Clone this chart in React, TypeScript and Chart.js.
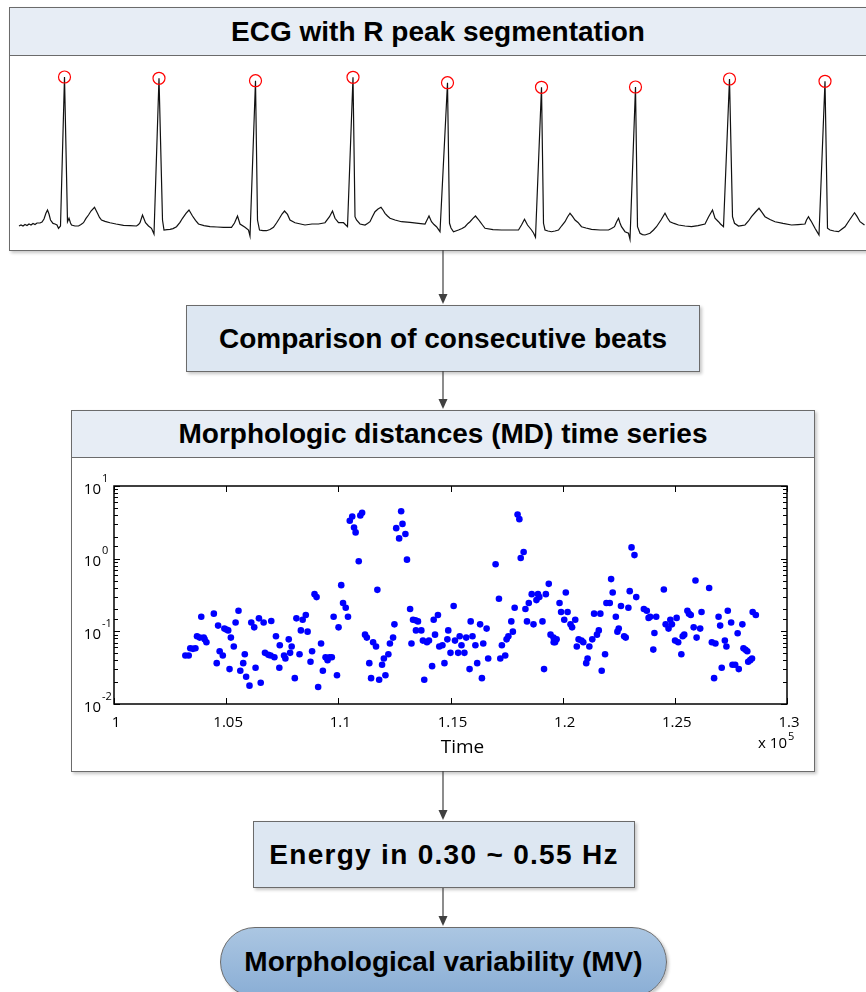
import React, { useEffect, useRef } from 'react';
import { Chart, registerables } from 'chart.js';

Chart.register(...registerables);

// ---------- ECG trace (samples at 250 Hz, amplitude in mV) ----------
const ecgSample = [
  18, 22, 26, 30, 34, 38, 42, 46, 50, 54, 60, 64, 68, 72, 75, 78, 81, 86, 90, 94,
  97, 101, 109, 115, 118, 121, 123, 130, 137, 142, 147, 152, 157, 162, 169, 175, 179, 183, 190, 200,
  212, 227, 240, 253,
  257, 260, 265, 271, 277, 283, 288, 298, 305, 308, 314, 320, 326, 333, 340, 345, 352, 358, 365, 371,
  377, 388, 400, 414, 427, 443,
  449, 455, 460, 470, 477, 480, 491, 495, 499, 506, 513, 520, 527, 533, 539, 544, 549, 555, 560, 570,
  590, 604, 617, 630, 639, 645, 650, 657, 667, 675,
  686, 690, 693, 700, 710, 715, 720, 725, 730, 736, 742, 746, 750, 755, 760, 770, 783, 800, 817, 830,
  834, 838, 843, 848, 853, 860,
  875, 879, 882, 887, 897, 904, 910, 916, 920, 926, 931, 936, 940, 945, 950, 966, 983, 1000, 1017, 1023,
  1029, 1035, 1043, 1047, 1051,
  1063, 1067, 1070, 1076, 1083, 1090, 1097, 1103, 1110, 1115, 1120, 1125, 1130, 1136, 1143, 1152, 1163, 1180, 1197, 1203,
  1209, 1213, 1217, 1220, 1223, 1230, 1237, 1240,
  1251, 1255, 1260, 1265, 1270, 1280, 1287, 1293, 1302, 1310, 1315, 1320, 1328, 1337, 1350, 1363, 1376, 1390, 1397, 1405,
  1410, 1417, 1421, 1427,
  1439, 1445, 1449, 1457, 1463, 1470, 1477, 1483, 1491, 1498, 1504, 1510, 1520, 1530, 1546, 1563, 1576, 1590, 1593, 1597,
  1600, 1603, 1610, 1614, 1618,
  1630, 1635, 1640, 1648, 1657, 1664, 1670, 1679, 1689, 1694, 1700, 1709,
];
const ecgAmp = [
  -0.014, -0.007, -0.014, -0.004, -0.011, 0, -0.007, 0.004, -0.004, 0.007, 0.007, 0.014, 0.035, 0.077, 0.098, 0.07, 0.028, 0.004, 0, -0.007,
  -0.03, -0.014, 1.029, 0.016, 0.04, 0.007, -0.007, -0.014, -0.014, -0.004, 0.009, 0.039, 0.063, 0.091, 0.117, 0.075, 0.046, 0.028, 0.018, 0.009,
  0, -0.009, -0.011, -0.014,
  -0.004, 0.009, 0.063, 0.009, -0.014, -0.03, -0.07, 1.02, 0.028, -0.042, -0.039, -0.037, -0.032, -0.019, 0.011, 0.04, 0.074, 0.098, 0.056, 0.025,
  0, -0.011, -0.019, -0.021, -0.023, -0.023,
  0.007, 0.056, 0, -0.023, -0.042, -0.084, 1.003, 0.028, -0.042, -0.046, -0.047, -0.039, -0.023, 0.007, 0.04, 0.07, 0.091, 0.067, 0.028, 0.009,
  -0.007, 0, 0, 0.009, 0.051, 0.091, 0.04, 0.009, 0.009, -0.019,
  1.027, 0.051, 0.028, 0, -0.007, 0.004, 0.016, 0.053, 0.086, 0.105, 0.117, 0.098, 0.075, 0.056, 0.04, 0.028, 0.016, 0.011, 0.005, 0,
  0.028, 0.056, 0.016, -0.004, -0.019, -0.054,
  0.989, 0.005, -0.028, -0.054, -0.042, -0.032, -0.019, 0.004, 0.016, 0.039, 0.056, 0.035, 0.016, -0.007, -0.03, -0.039, -0.042, -0.042, -0.042, -0.007,
  0.033, -0.007, -0.042, -0.063, -0.093,
  0.957, 0.005, -0.042, -0.049, -0.054, -0.049, -0.042, -0.014, 0.016, 0.049, 0.075, 0.053, 0.028, 0.011, -0.019, -0.028, -0.037, -0.042, -0.042, -0.032,
  -0.019, 0.014, 0.04, 0.007, -0.019, -0.054, -0.065, -0.107,
  0.959, -0.019, -0.065, -0.074, -0.077, -0.065, -0.042, -0.019, 0.028, 0.075, 0.042, 0.016, 0.004, -0.007, -0.014, -0.019, -0.011, 0, 0.049, 0.098,
  0.04, 0.016, 0, -0.019,
  1.015, 0.051, 0.005, -0.014, -0.011, -0.007, 0.021, 0.051, 0.084, 0.11, 0.081, 0.051, 0.032, 0.016, 0.004, -0.007, -0.004, 0, 0.028, 0.051,
  0.032, 0.016, -0.03, -0.053, -0.077,
  0.999, -0.03, -0.042, -0.049, -0.054, -0.035, -0.019, 0.028, 0.079, 0.053, 0.016, -0.007,
];

// ---------- detected R peaks ----------
const rPeakSample = [109, 298, 491, 686, 875, 1063, 1251, 1439, 1630];
const rPeakAmp = [1.029, 1.02, 1.003, 1.027, 0.989, 0.957, 0.959, 1.015, 0.999];

// ---------- morphologic distance time series ----------
const mdTime = [
  103180, 103330, 103400, 103520, 103630, 103700, 103820, 103890, 104000, 104040,
  104120, 104450, 104580, 104640, 104710, 104850, 104920, 105010, 105090, 105150,
  105210, 105340, 105420, 105550, 105630, 105760, 105830, 105890, 106040, 106120,
  106250, 106310, 106460, 106540, 106670, 106730, 106880, 106980, 107010, 107150,
  107220, 107390, 107370, 107580, 107640, 107790, 107850, 107920, 108060, 108130,
  108270, 108330, 108410, 108550, 108630, 108760, 108830, 108940, 109030, 109100,
  109230, 109310, 109430, 109520, 109610, 109710, 109790, 109940, 110010, 110130,
  110210, 110330, 110430, 110510, 110620, 110700, 110770, 110910, 110980, 111060,
  111190, 111270, 111380, 111460, 111550, 111680, 111740, 111820, 111950, 112030,
  112100, 112230, 112300, 112440, 112500, 112580, 112710, 112800, 112860, 112990,
  113060, 113200, 113260, 113330, 113440, 113550, 113460, 113700, 113770, 113830,
  113950, 114040, 114180, 114250, 114310, 114440, 114500, 114640, 114730, 114860,
  114900, 115000, 115140, 115200, 115340, 115410, 115490, 115620, 115700, 115850,
  115900, 115980, 116110, 116190, 116320, 116400, 116460, 116610, 116680, 117010,
  117160, 117220, 117290, 117440, 117500, 117580, 117710, 117780, 117860, 117990,
  118070, 118130, 118260, 118340, 118410, 118490, 118620, 118700, 118830, 118900,
  118960, 119100, 119170, 119250, 119380, 119460, 119590, 119600, 119660, 119730,
  119860, 119930, 120070, 120140, 120220, 120350, 120420, 120560, 120630, 120710,
  120840, 120920, 121050, 121110, 121190, 121320, 121400, 121530, 121610, 121680,
  121740, 121890, 121950, 122100, 122160, 122230, 122370, 122440, 122500, 122600,
  122740, 122810, 122930, 122990, 123070, 123200, 123280, 123620, 123750, 123830,
  123900, 124040, 124090, 124170, 124510, 124590, 124720, 124800, 124870, 125010,
  125080, 125150, 125290, 125350, 125420, 125560, 125630, 125710, 125840, 125920,
  125970, 126130, 126190, 126530, 126650, 126750, 126810, 126950, 127020, 127090,
  127230, 127300, 127360, 127510, 127570, 127690, 127800, 127850, 128010, 128060,
  128150, 128230, 128270, 128360, 128440, 128470, 128610,
];
const mdValue = [
  0.0465, 0.0465, 0.0585, 0.0574, 0.0585, 0.0855, 0.082, 0.159, 0.082, 0.0776,
  0.0706, 0.175, 0.0365, 0.12, 0.0532, 0.0465, 0.109, 0.106, 0.103, 0.0302,
  0.082, 0.0617, 0.132, 0.192, 0.0287, 0.0365, 0.0484, 0.0237, 0.0179, 0.132,
  0.1135, 0.0316, 0.151, 0.0196, 0.132, 0.0506, 0.0475, 0.0465, 0.139, 0.044,
  0.0855, 0.0643, 0.0316, 0.0465, 0.0423, 0.0776, 0.0506, 0.0617, 0.0227, 0.151,
  0.0484, 0.103, 0.1445, 0.168, 0.099, 0.0381, 0.0532, 0.325, 0.296, 0.0171,
  0.0679, 0.0287, 0.044, 0.0401, 0.044, 0.044, 0.159, 0.0249, 0.1135, 0.432,
  0.245, 0.2115, 0.159, 3.32, 3.81, 2.69, 2.3, 0.921, 3.93, 4.27,
  0.09, 0.082, 0.0365, 0.0227, 0.0706, 0.0617, 0.372, 0.0216, 0.0347, 0.0423,
  0.0249, 0.0484, 0.0679, 0.082, 0.1248, 2.63, 1.9, 4.5, 3.01, 2.18,
  0.969, 0.203, 0.0679, 0.1445, 0.142, 0.137, 0.103, 0.103, 0.0746, 0.0216,
  0.0706, 0.0746, 0.0332, 0.1445, 0.09, 0.168, 0.0617, 0.0643, 0.0365, 0.0776,
  0.103, 0.0506, 0.223, 0.0746, 0.0506, 0.0855, 0.0643, 0.0506, 0.082, 0.0302,
  0.137, 0.0855, 0.0643, 0.0365, 0.1248, 0.0227, 0.0679, 0.109, 0.0423, 0.838,
  0.281, 0.0423, 0.0643, 0.0465, 0.0776, 0.0855, 0.137, 0.099, 0.2115, 4.06,
  3.5, 1.02, 1.235, 0.203, 0.137, 0.245, 0.325, 0.1248, 0.269, 0.325,
  0.296, 0.137, 0.0302, 0.325, 0.45, 0.09, 0.082, 0.0706, 0.0706, 0.0776,
  0.245, 0.1845, 0.1445, 0.342, 0.1845, 0.1248, 0.1135, 0.1445, 0.0617, 0.0776,
  0.0746, 0.0706, 0.0365, 0.0423, 0.0617, 0.0776, 0.175, 0.09, 0.103, 0.175,
  0.0287, 0.0484, 0.245, 0.245, 0.523, 0.342, 0.159, 0.099, 0.109, 0.223,
  0.0855, 0.082, 0.2115, 0.357, 1.43, 1.12, 0.296, 0.203, 0.192, 0.153,
  0.159, 0.0561, 0.095, 0.159, 0.376, 0.1248, 0.109, 0.1445, 0.1248, 0.0746,
  0.153, 0.0706, 0.0484, 0.0855, 0.09, 0.192, 0.175, 0.168, 0.1135, 0.5,
  0.082, 0.109, 0.1845, 0.394, 0.0706, 0.0227, 0.0679, 0.159, 0.12, 0.0316,
  0.0746, 0.0617, 0.192, 0.132, 0.0347, 0.0347, 0.094, 0.0302, 0.1248, 0.0585,
  0.0556, 0.0532, 0.0381, 0.0401, 0.0423, 0.1845, 0.168,
];

// axis settings of the MD plot
const timeMin = 100000;
const timeMax = 130000;
const timeStep = 5000;
const mdMin = 0.01;
const mdMax = 10;
const decadeExponents = [1, 0, -1, -2];

const BOLD_FONT = '"Liberation Sans", Arial, Helvetica, sans-serif';
const AXIS_FONT = '"Open Sans", "Noto Sans", sans-serif';

function EcgChart() {
  const ref = useRef<HTMLCanvasElement>(null);
  useEffect(() => {
    const chart = new Chart(ref.current as HTMLCanvasElement, {
      type: 'scatter',
      data: {
        datasets: [
          {
            data: rPeakSample.map((s, i) => ({ x: s, y: rPeakAmp[i] })),
            showLine: false,
            pointRadius: 6,
            pointBorderColor: '#ff0000',
            pointBackgroundColor: 'rgba(0,0,0,0)',
            pointBorderWidth: 1.2,
            clip: false,
          },
          {
            data: ecgSample.map((s, i) => ({ x: s, y: ecgAmp[i] })),
            showLine: true,
            borderColor: '#111111',
            borderWidth: 1.2,
            pointRadius: 0,
            tension: 0,
          },
        ],
      },
      options: {
        responsive: false,
        animation: false,
        events: [],
        layout: { padding: 0, autoPadding: false },
        scales: {
          x: { type: 'linear', min: 0, max: 1710, display: false },
          y: { type: 'linear', min: -0.175, max: 1.176, display: false },
        },
        plugins: { legend: { display: false }, tooltip: { enabled: false } },
      },
    });
    return () => chart.destroy();
  }, []);
  return (
    <canvas
      ref={ref}
      width={855}
      height={193}
      style={{ position: 'absolute', left: 10, top: 56, width: 855, height: 193 }}
    />
  );
}

function MdChart() {
  const ref = useRef<HTMLCanvasElement>(null);
  useEffect(() => {
    const matlabAxes = {
      id: 'matlabAxes',
      afterDatasetsDraw(chart: any) {
        const { ctx, chartArea } = chart;
        const { left, right, top, bottom } = chartArea;
        const xs = chart.scales.x;
        const ys = chart.scales.y;
        ctx.save();
        ctx.strokeStyle = '#000';
        ctx.lineWidth = 1;
        ctx.beginPath();
        xs.ticks.forEach((t: any) => {
          const px = Math.round(xs.getPixelForValue(t.value)) + 0.5;
          ctx.moveTo(px, bottom);
          ctx.lineTo(px, bottom - 6);
          ctx.moveTo(px, top);
          ctx.lineTo(px, top + 6);
        });
        ys.ticks.forEach((t: any) => {
          const lg = Math.log10(t.value);
          const major = Math.abs(lg - Math.round(lg)) < 1e-6;
          const len = major ? 6 : 4;
          const py = Math.round(ys.getPixelForValue(t.value)) + 0.5;
          ctx.moveTo(left, py);
          ctx.lineTo(left + len, py);
          ctx.moveTo(right, py);
          ctx.lineTo(right - len, py);
        });
        ctx.stroke();
        ctx.lineWidth = 1.5;
        ctx.strokeRect(left, top, right - left, bottom - top);

        // y labels 10^k
        ctx.fillStyle = '#000';
        decadeExponents.forEach((e) => {
          const py = ys.getPixelForValue(Math.pow(10, e));
          const xr = left - 13;
          ctx.font = `15px ${AXIS_FONT}`;
          ctx.textAlign = 'right';
          ctx.textBaseline = 'alphabetic';
          ctx.fillText('10', xr, py + 7.5);
          ctx.font = `11px ${AXIS_FONT}`;
          ctx.textAlign = 'left';
          ctx.fillText(String(e), xr + 1, py - 4.5);
        });

        // axis title
        ctx.font = `19px ${AXIS_FONT}`;
        ctx.textAlign = 'center';
        ctx.fillText('Time', (left + right) / 2 + 12, bottom + 49);

        // exponent label
        ctx.font = `15px ${AXIS_FONT}`;
        ctx.textAlign = 'right';
        ctx.fillText('x 10', right, bottom + 44);
        ctx.font = `11px ${AXIS_FONT}`;
        ctx.textAlign = 'left';
        ctx.fillText('5', right + 1, bottom + 36);
        ctx.restore();
      },
    };

    const chart = new Chart(ref.current as HTMLCanvasElement, {
      type: 'scatter',
      data: {
        datasets: [
          {
            data: mdTime.map((t, i) => ({ x: t, y: mdValue[i] })),
            pointRadius: 3.3,
            pointBackgroundColor: '#0000ff',
            pointBorderColor: '#0000ff',
            pointBorderWidth: 0,
          },
        ],
      },
      options: {
        responsive: false,
        animation: false,
        events: [],
        layout: { padding: { left: 0, right: 25, top: 28, bottom: 0 }, autoPadding: false },
        scales: {
          x: {
            type: 'linear',
            min: timeMin,
            max: timeMax,
            grid: { display: false, drawTicks: false },
            border: { display: false },
            ticks: {
              stepSize: timeStep,
              autoSkip: false,
              maxRotation: 0,
              padding: 10,
              labelOffset: 2,
              color: '#000',
              font: { family: AXIS_FONT, size: 15 },
              callback: (v: any) => String(Number((Number(v) / 1e5).toFixed(2))),
            },
            afterFit: (s: any) => {
              s.height = 66;
            },
          },
          y: {
            type: 'logarithmic',
            min: mdMin,
            max: mdMax,
            grid: { display: false, drawTicks: false },
            border: { display: false },
            ticks: { display: false, autoSkip: false },
            afterFit: (s: any) => {
              s.width = 42;
            },
          },
        },
        plugins: { legend: { display: false }, tooltip: { enabled: false } },
      },
      plugins: [matlabAxes],
    });
    return () => chart.destroy();
  }, []);
  return (
    <canvas
      ref={ref}
      width={740}
      height={312}
      style={{ position: 'absolute', left: 72, top: 458, width: 740, height: 312 }}
    />
  );
}

const BORDER = '1px solid #6b6b6b';
const SHADOW = '2px 2px 3px rgba(0,0,0,0.22)';
const BAND = '#e7edf5';
const BOXFILL = '#dde7f2';

const titleText: React.CSSProperties = {
  fontFamily: BOLD_FONT,
  fontWeight: 700,
  fontSize: 28,
  color: '#000',
  whiteSpace: 'nowrap',
};

function Arrows() {
  const x = 443;
  const segs = [
    [250, 305],
    [371, 410],
    [771, 821],
    [888, 927],
  ];
  return (
    <svg
      width={866}
      height={992}
      style={{ position: 'absolute', left: 0, top: 0, pointerEvents: 'none' }}
    >
      {segs.map(([a, b], i) => (
        <g key={i}>
          <line x1={x} y1={a} x2={x} y2={b - 9} stroke="#404040" strokeWidth={1.2} />
          <polygon points={`${x - 4.5},${b - 11} ${x + 4.5},${b - 11} ${x},${b - 1}`} fill="#404040" />
        </g>
      ))}
    </svg>
  );
}

export default function App() {
  return (
    <div
      style={{
        position: 'absolute',
        left: 0,
        top: 0,
        width: 866,
        height: 992,
        overflow: 'hidden',
        background: '#fff',
      }}
    >
      {/* ECG box */}
      <div
        style={{
          position: 'absolute',
          left: 9,
          top: 7,
          width: 870,
          height: 244,
          boxSizing: 'border-box',
          border: BORDER,
          boxShadow: SHADOW,
          background: '#fff',
        }}
      >
        <div
          style={{
            height: 48,
            boxSizing: 'border-box',
            borderBottom: BORDER,
            background: BAND,
            display: 'flex',
            alignItems: 'center',
            justifyContent: 'center',
            width: 856,
          }}
        >
          <span style={titleText}>ECG with R peak segmentation</span>
        </div>
      </div>
      <EcgChart />

      {/* Comparison box */}
      <div
        style={{
          position: 'absolute',
          left: 186,
          top: 305,
          width: 514,
          height: 67,
          boxSizing: 'border-box',
          border: BORDER,
          boxShadow: SHADOW,
          background: BOXFILL,
          display: 'flex',
          alignItems: 'center',
          justifyContent: 'center',
        }}
      >
        <span style={titleText}>Comparison of consecutive beats</span>
      </div>

      {/* MD box */}
      <div
        style={{
          position: 'absolute',
          left: 71,
          top: 410,
          width: 744,
          height: 362,
          boxSizing: 'border-box',
          border: BORDER,
          boxShadow: SHADOW,
          background: '#fff',
        }}
      >
        <div
          style={{
            height: 47,
            boxSizing: 'border-box',
            borderBottom: BORDER,
            background: BAND,
            display: 'flex',
            alignItems: 'center',
            justifyContent: 'center',
          }}
        >
          <span style={titleText}>Morphologic distances (MD) time series</span>
        </div>
      </div>
      <MdChart />

      {/* Energy box */}
      <div
        style={{
          position: 'absolute',
          left: 253,
          top: 821,
          width: 382,
          height: 67,
          boxSizing: 'border-box',
          border: BORDER,
          boxShadow: SHADOW,
          background: BOXFILL,
          display: 'flex',
          alignItems: 'center',
          justifyContent: 'center',
        }}
      >
        <span style={{ ...titleText, letterSpacing: 1.3 }}>Energy in 0.30 ~ 0.55 Hz</span>
      </div>

      {/* MV terminator */}
      <div
        style={{
          position: 'absolute',
          left: 220,
          top: 927,
          width: 447,
          height: 70,
          boxSizing: 'border-box',
          border: BORDER,
          borderRadius: 35,
          boxShadow: SHADOW,
          background: 'linear-gradient(#abc6e2, #8aaed5)',
          display: 'flex',
          alignItems: 'center',
          justifyContent: 'center',
        }}
      >
        <span style={titleText}>Morphological variability (MV)</span>
      </div>

      <Arrows />
    </div>
  );
}
